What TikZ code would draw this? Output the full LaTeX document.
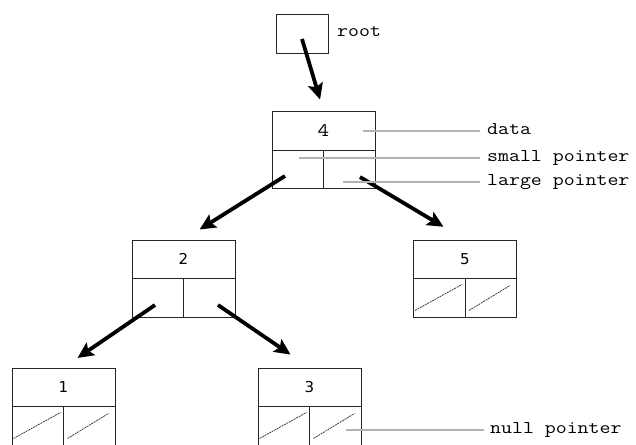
\documentclass[tikz,border=0pt]{standalone}
\usepackage{fontspec}
\usetikzlibrary{arrows.meta,calc}
\newfontfamily\labelfont[FakeStretch=1.18]{Latin Modern Mono}
\newfontfamily\digitfont{DejaVu Sans}

\tikzset{
  record/.style={draw=black!85, line width=0.9pt, minimum width=103pt, minimum height=77pt, inner sep=0pt},
  rootbox/.style={draw=black!85, line width=0.9pt, minimum width=52pt, minimum height=39pt, inner sep=0pt},
  cellrule/.style={draw=black!85, line width=0.9pt},
  ptr/.style={line width=3.8pt, -{Stealth[length=16pt,width=15pt,inset=3pt]}},
  callout/.style={draw=black!30, line width=2pt},
  calltext/.style={font=\labelfont\fontsize{18}{20}\selectfont, anchor=base west, inner sep=0pt},
  keytext/.style={inner sep=0pt},
  nullptr/.style={line width=0.75pt, black!80, dash pattern=on 2pt off 0.8pt}
}

% a tree record: key cell on top, two pointer cells below
\newcommand\recnode[4]{% name, centre, key, font
  \node[record] (#1) at (#2) {};
  \draw[cellrule] (#1.west) -- (#1.east);
  \draw[cellrule] (#1.center) -- (#1.south);
  \node[keytext, font=#4] (#1-key) at ($(#1.north)!0.5!(#1.center)$) {#3};
}
% both pointer cells hold a null pointer
\newcommand\nullcells[1]{%
  \draw[nullptr] ($(#1.south west)+(2,-7)$) -- ($(#1.center)+(-3,6)$);
  \draw[nullptr] ($(#1.south)+(4,-7)$) -- ($(#1.east)+(-7,7)$);
}

\begin{document}
\begin{tikzpicture}[x=1pt,y=-1pt]
\useasboundingbox (0,0) rectangle (636,444);

\node[rootbox] (root) at (302,33.5) {};
\node[calltext] (root-lbl) at (337,37) {root};

\recnode{n4}{323.5,150}{4}{\labelfont\fontsize{19}{20}\selectfont}
\recnode{n2}{183.5,278.5}{2}{\digitfont\fontsize{15}{16}\selectfont}
\recnode{n5}{465,278.5}{5}{\digitfont\fontsize{15}{16}\selectfont}
\recnode{n1}{63.5,406.5}{1}{\digitfont\fontsize{15}{16}\selectfont}
\recnode{n3}{309.5,406.5}{3}{\digitfont\fontsize{15}{16}\selectfont}

\nullcells{n5}
\nullcells{n1}
\nullcells{n3}

% pointer origins inside the cells
\coordinate (root-ptr) at (302,39);
\coordinate (n4-small) at (285,176);
\coordinate (n4-large) at (360,177);
\coordinate (n2-small) at (155,305);
\coordinate (n2-large) at (218,305);

\draw[ptr, shorten >=12pt] (root-ptr) -- (n4.north);
\draw[ptr, shorten >=19pt] (n4-small) -- (n2.north);
\draw[ptr, shorten >=25pt] (n4-large) -- (n5.north);
\draw[ptr, shorten >=17pt] (n2-small) -- (n1.north);
\draw[ptr, shorten >=23pt] (n2-large) -- (n3.north);

% callouts
\coordinate (c-data) at (363,131);
\coordinate (c-small) at (299,158);
\coordinate (c-large) at (343,182);
\coordinate (c-null) at (346,430);
\coordinate (e-data) at (480,131);
\coordinate (e-small) at (480,158);
\coordinate (e-large) at (480,182);
\coordinate (e-null) at (484,430);
\draw[callout] (c-data) -- (e-data);
\draw[callout] (c-small) -- (e-small);
\draw[callout] (c-large) -- (e-large);
\draw[callout] (c-null) -- (e-null);
\node[calltext] (t-data) at (487,134.5) {data};
\node[calltext] (t-small) at (487,161.5) {small pointer};
\node[calltext] (t-large) at (487,185.5) {large pointer};
\node[calltext] (t-null) at (490,433.5) {null pointer};
\end{tikzpicture}
\end{document}
